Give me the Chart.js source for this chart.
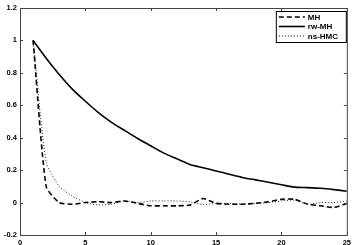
<!DOCTYPE html>
<html>
<head>
<meta charset="utf-8">
<script src="https://cdn.jsdelivr.net/npm/chart.js@4"></script>
<style>
  html, body { margin: 0; padding: 0; background: #fff; }
  #wrap { width: 354px; height: 245px; }
</style>
</head>
<body>
<div id="wrap"><canvas id="c"></canvas></div>
<script>
const lags = [1,2,3,4,5,6,7,8,9,10,11,12,13,14,15,16,17,18,19,20,21,22,23,24,25];
const mhValues = [1, 0.1, 0.0, -0.01, 0.0, 0.005, 0.0, 0.01, -0.005, -0.02, -0.02, -0.02, -0.015, 0.025, -0.005, -0.01, -0.01, -0.005, 0.005, 0.02, 0.02, -0.01, -0.02, -0.03, -0.005];
const rwMhValues = [1, 0.89, 0.79, 0.70, 0.625, 0.555, 0.495, 0.445, 0.395, 0.35, 0.305, 0.27, 0.235, 0.215, 0.195, 0.175, 0.155, 0.14, 0.125, 0.11, 0.095, 0.092, 0.088, 0.08, 0.07];
const nsHmcValues = [1, 0.25, 0.1, 0.04, 0.0, -0.015, -0.01, 0.01, 0.0, 0.01, 0.01, 0.01, 0.005, -0.012, -0.005, -0.005, -0.01, -0.005, 0.0, 0.01, 0.015, -0.01, 0.0, 0.0, 0.01];
const seriesNames = ['MH', 'rw-MH', 'ns-HMC'];
const xTicks = [0, 5, 10, 15, 20, 25];
const yTicks = [-0.2, 0, 0.2, 0.4, 0.6, 0.8, 1, 1.2];

const font = { family: 'Liberation Sans, Arial, sans-serif', size: 7.5, weight: 'bold' };

function pts(vals) {
    return lags.map((x, i) => ({ x: x, y: vals[i] }));
}

// MATLAB style box, inward ticks and boxed legend
const matlabBox = {
    id: 'matlabBox',
    afterDraw(chart) {
        const ctx = chart.ctx;
        const a = chart.chartArea;
        const xs = chart.scales.x, ys = chart.scales.y;
        ctx.save();
        ctx.strokeStyle = '#444';
        ctx.lineWidth = 1;
        ctx.strokeRect(a.left + 0.5, a.top + 0.5, a.right - a.left, a.bottom - a.top);
        ctx.beginPath();
        xTicks.forEach(v => {
            const p = Math.round(xs.getPixelForValue(v)) + 0.5;
            ctx.moveTo(p, a.bottom); ctx.lineTo(p, a.bottom - 3);
            ctx.moveTo(p, a.top); ctx.lineTo(p, a.top + 3);
        });
        yTicks.forEach(v => {
            const p = Math.round(ys.getPixelForValue(v)) + 0.5;
            ctx.moveTo(a.left, p); ctx.lineTo(a.left + 3, p);
            ctx.moveTo(a.right, p); ctx.lineTo(a.right - 3, p);
        });
        ctx.stroke();

        // legend
        const bx = a.right - 71, by = a.top + 3, bw = 70, bh = 31;
        ctx.fillStyle = '#fff';
        ctx.fillRect(bx, by, bw, bh);
        ctx.strokeStyle = '#000';
        ctx.strokeRect(bx + 0.5, by + 0.5, bw, bh);
        ctx.font = 'bold 8px Liberation Sans, Arial, sans-serif';
        ctx.textBaseline = 'middle';
        chart.data.datasets.forEach((ds, i) => {
            const y = by + 6 + i * 9.5;
            ctx.beginPath();
            ctx.strokeStyle = '#000';
            ctx.lineWidth = ds.borderWidth;
            ctx.setLineDash(ds.borderDash || []);
            ctx.moveTo(bx + 3, y);
            ctx.lineTo(bx + 29, y);
            ctx.stroke();
            ctx.setLineDash([]);
            ctx.fillStyle = '#000';
            ctx.fillText(ds.label, bx + 32, y + 0.5);
        });
        ctx.restore();
    }
};

new Chart(document.getElementById('c'), {
    type: 'line',
    data: {
        datasets: [
            { label: seriesNames[0], data: pts(mhValues), borderColor: '#000', borderWidth: 1.6, borderDash: [5, 3] },
            { label: seriesNames[1], data: pts(rwMhValues), borderColor: '#000', borderWidth: 1.6 },
            { label: seriesNames[2], data: pts(nsHmcValues), borderColor: '#222', borderWidth: 1, borderDash: [1, 2] },
        ],
    },
    options: {
        responsive: true,
        maintainAspectRatio: false,
        animation: false,
        events: [],
        elements: { point: { radius: 0 }, line: { tension: 0.2 } },
        layout: { padding: { top: 8, right: 6, left: 0, bottom: 0 } },
        plugins: { legend: { display: false }, tooltip: { enabled: false } },
        scales: {
            x: {
                type: 'linear', min: 0, max: 25,
                afterBuildTicks: s => { s.ticks = xTicks.map(v => ({ value: v })); },
                afterFit: s => { s.height = 10; },
                grid: { display: false, drawTicks: false },
                border: { display: false },
                ticks: { color: '#000', font: font, padding: 3, maxRotation: 0 },
            },
            y: {
                min: -0.2, max: 1.2,
                afterBuildTicks: s => { s.ticks = yTicks.map(v => ({ value: v })); },
                afterFit: s => { s.width = 20; },
                grid: { display: false, drawTicks: false },
                border: { display: false },
                ticks: { color: '#000', font: font, padding: 3, callback: v => String(Math.round(v * 10) / 10) },
            },
        },
    },
    plugins: [matlabBox],
});
</script>
</body>
</html>
